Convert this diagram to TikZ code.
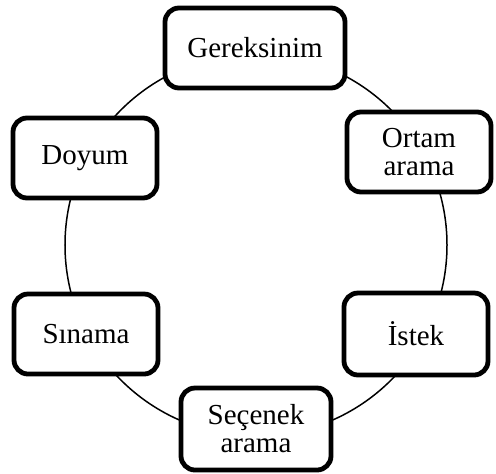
\documentclass[tikz,border=0pt]{standalone}
\usepackage{fontspec}
\setmainfont{Liberation Serif}
\usepackage{tikz}
\usetikzlibrary{positioning}
\definecolor{ink}{HTML}{000000}
\tikzset{
  box/.style={rectangle, rounded corners=7pt, draw=ink, fill=white, line width=2.4pt,
              align=center, font=\fontsize{14.5}{14}\selectfont, inner sep=2pt,
              minimum width=72pt, minimum height=40pt},
  ring/.style={draw=ink, line width=0.75pt}
}
\begin{document}
\begin{tikzpicture}[x=0.5pt, y=0.5pt]
  \useasboundingbox (-256,-228) rectangle (240,245);
  \draw[ring] (0,0) circle (191);
  % the six stages round the ring
  \node[box, minimum width=90pt] (ger) at (-1,197) {Gereksinim};
  \node[box] (ort) at (163,93) {Ortam\\arama};
  \node[box, minimum height=41pt] (ist) at (160,-89) {İstek};
  \node[box, minimum width=75pt, minimum height=41pt] (sec) at (0,-184) {Seçenek\\arama};
  \node[box] (sin) at (-170,-89) {Sınama};
  \node[box] (doy) at (-171,87) {Doyum};
\end{tikzpicture}
\end{document}
